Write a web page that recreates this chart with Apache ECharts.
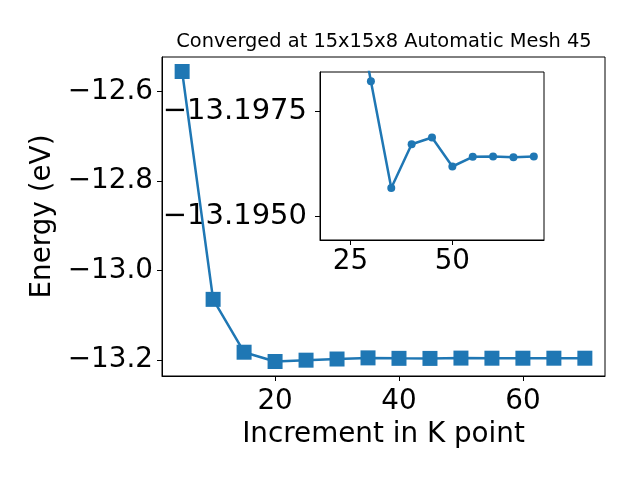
<!DOCTYPE html>
<html>
<head>
<meta charset="utf-8">
<script src="https://cdn.jsdelivr.net/npm/echarts@6/dist/echarts.min.js"></script>
<style>html,body{margin:0;padding:0;background:#fff;}#c{width:640px;height:480px;}</style>
</head>
<body>
<div id="c"></div>
<script>
const kpoints = [5, 10, 15, 20, 25, 30, 35, 40, 45, 50, 55, 60, 65, 70];
const energies = [-12.5552, -13.0648, -13.1830, -13.2038, -13.2008, -13.19821, -13.19567, -13.19671, -13.19687, -13.19618, -13.19641, -13.19642, -13.19640, -13.19642];
const insetStartK = 20;
const mainXTicks = [20, 40, 60];
const mainYTicks = [-12.6, -12.8, -13.0, -13.2];
const insetXTicks = [25, 50];
const insetYTicks = [-13.1975, -13.1950];
const titleText = 'Converged at 15x15x8 Automatic Mesh 45';
const xName = 'Increment in K point';
const yName = 'Energy (eV)';

const pts = kpoints.map((k, i) => [k, energies[i]]);
const insetPts = pts.filter(p => p[0] >= insetStartK);
const FONT = 'DejaVu Sans';
const C = '#1f77b4';
const minus = s => String(s).replace('-', '\u2212');

const chart = echarts.init(document.getElementById('c'), null, {renderer: 'canvas'});
const axisCommon = {
  axisLine: {show: true, onZero: false, lineStyle: {color: '#000', width: 1}},
  splitLine: {show: false},
};
chart.setOption({
  animation: false,
  backgroundColor: '#fff',
  title: {
    text: titleText, left: 384, top: 32, textAlign: 'center', padding: 0,
    textStyle: {fontFamily: FONT, fontSize: 19.4, fontWeight: 'normal', color: '#000'}
  },
  grid: [
    {left: 162, top: 57, width: 443, height: 319, show: true, borderColor: '#000', borderWidth: 1, backgroundColor: 'transparent', containLabel: false},
    {left: 320, top: 72, width: 224, height: 168, show: true, borderColor: '#000', borderWidth: 1, backgroundColor: '#fff', containLabel: false}
  ],
  xAxis: [
    Object.assign({}, axisCommon, {
      type: 'value', gridIndex: 0, min: 1.75, max: 73.25,
      axisTick: {show: true, inside: false, length: 5, lineStyle: {color: '#000'}, customValues: mainXTicks},
      axisLabel: {show: true, margin: 12, fontFamily: FONT, fontSize: 27.8, color: '#000', customValues: mainXTicks, formatter: v => minus(v)},
      name: xName, nameLocation: 'middle', nameGap: 43,
      nameTextStyle: {fontFamily: FONT, fontSize: 27.8, color: '#000'}
    }),
    Object.assign({}, axisCommon, {
      type: 'value', gridIndex: 1, min: 17.5, max: 72.5,
      axisTick: {show: true, inside: false, length: 5, lineStyle: {color: '#000'}, customValues: insetXTicks},
      axisLabel: {show: true, margin: 8, fontFamily: FONT, fontSize: 27.8, color: '#000', customValues: insetXTicks, formatter: v => minus(v)}
    })
  ],
  yAxis: [
    Object.assign({}, axisCommon, {
      type: 'value', gridIndex: 0, min: -13.2362, max: -12.5228,
      axisTick: {show: true, inside: false, length: 5, lineStyle: {color: '#000'}, customValues: mainYTicks},
      axisLabel: {show: true, margin: 9, padding: [5, 0, 0, 0], fontFamily: FONT, fontSize: 27.8, color: '#000', customValues: mainYTicks, formatter: v => minus(v.toFixed(1))},
      name: yName, nameLocation: 'middle', nameGap: 88, nameRotate: 90,
      nameTextStyle: {fontFamily: FONT, fontSize: 27.8, color: '#000'}
    }),
    Object.assign({}, axisCommon, {
      type: 'value', gridIndex: 1, inverse: true, min: -13.19843, max: -13.19443,
      axisTick: {show: true, inside: false, length: 5, lineStyle: {color: '#000'}, customValues: insetYTicks},
      axisLabel: {show: true, margin: 13, padding: [5, 0, 0, 0], fontFamily: FONT, fontSize: 29, color: '#000', customValues: insetYTicks, formatter: v => minus(v.toFixed(4))}
    })
  ],
  series: [
    {
      type: 'line', xAxisIndex: 0, yAxisIndex: 0, data: pts,
      symbol: 'rect', symbolSize: 15, showAllSymbol: true,
      lineStyle: {color: C, width: 2.5}, itemStyle: {color: C, borderWidth: 0},
      clip: true, z: 2
    },
    {
      type: 'line', xAxisIndex: 1, yAxisIndex: 1, data: insetPts,
      symbol: 'circle', symbolSize: 8, showAllSymbol: true,
      lineStyle: {color: C, width: 2.5}, itemStyle: {color: C, borderWidth: 0},
      clip: true, z: 3
    }
  ]
});
</script>
</body>
</html>
